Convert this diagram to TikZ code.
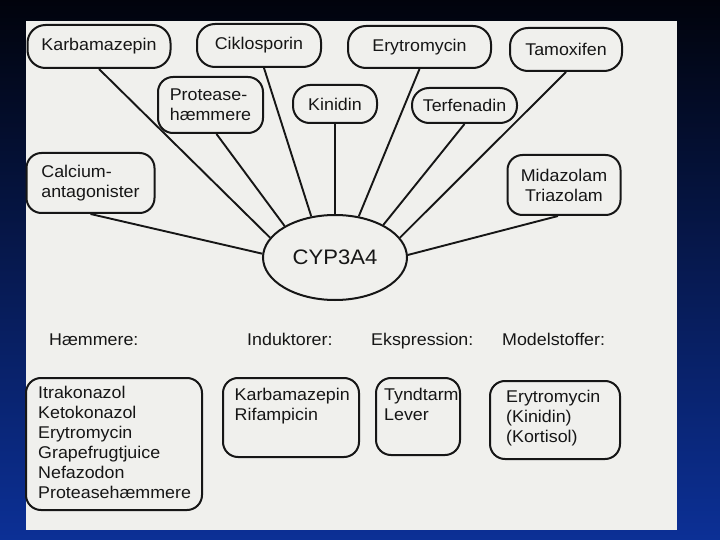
\documentclass[tikz,border=0pt]{standalone}
\usepackage{fontspec}
\setmainfont{Liberation Sans}[FakeStretch=1.05]
\usetikzlibrary{shapes.geometric}
\definecolor{paper}{RGB}{240,240,237}
\definecolor{ink}{RGB}{22,22,22}
\definecolor{bgtop}{RGB}{1,3,12}
\definecolor{bgbot}{RGB}{12,48,150}
\begin{document}
\begin{tikzpicture}[x=1pt,y=-1pt,
  box/.style={draw=ink, line width=2pt, rounded corners=#1, inner sep=0pt,
    align=center, text=ink, font=\fontsize{17}{20}\selectfont},
  box/.default=15pt,
  txt/.style={inner sep=0pt, align=left, text=ink, font=\fontsize{17}{20}\selectfont},
  conn/.style={draw=ink, line width=1.9pt}]
\useasboundingbox (0,0) rectangle (720,540);
\shade[top color=bgtop, bottom color=bgbot] (0,0) rectangle (720,540);
\fill[paper] (26,21) rectangle (677,530);

% top row
\node[box=18pt, minimum width=143pt, minimum height=43pt] (karb) at (99,46.5) {Karbamazepin};
\node[box=18pt, minimum width=124pt, minimum height=43pt] (cik) at (259,45.5) {Ciklosporin};
\node[box=18pt, minimum width=143pt, minimum height=42pt] (ery) at (419.5,47) {Erytromycin};
\node[box=18pt, minimum width=112pt, minimum height=43pt] (tam) at (566,49.5) {Tamoxifen};
% second row
\node[box=15pt, minimum width=105pt, minimum height=56pt, align=left] (prot) at (210.5,105) {Protease-\\hæmmere};
\node[box=17pt, minimum width=84pt, minimum height=38pt] (kin) at (335,104) {Kinidin};
\node[box=17pt, minimum width=105pt, minimum height=35pt] (ter) at (464.5,105.5) {Terfenadin};
% side boxes
\node[box=15pt, minimum width=128pt, minimum height=60pt, align=left] (cal) at (90.5,183) {Calcium-\\antagonister};
\node[box=15pt, minimum width=113pt, minimum height=60pt] (mid) at (564,185) {Midazolam\\Triazolam};
% centre
\node[draw=ink, line width=2pt, ellipse, minimum width=144pt, minimum height=85pt,
  inner sep=0pt, text=ink, font=\fontsize{21}{24}\selectfont] (cyp) at (335,257.5) {CYP3A4};

% connectors
\draw[conn] (karb.south) -- (cyp.163);
\draw[conn] ([xshift=6pt]prot.south) -- (cyp.148);
\draw[conn] ([xshift=5pt]cik.south) -- (cyp.120);
\draw[conn] (kin.south) -- (cyp.north);
\draw[conn] (ery.south) -- (cyp.60);
\draw[conn] (ter.south) -- (cyp.34);
\draw[conn] (tam.south) -- (cyp.17);
\draw[conn] (cal.south) -- (cyp.177);
\draw[conn] ([xshift=-6pt]mid.south) -- (cyp.2);

% headings
\node[txt, anchor=base west] (lham) at (49,345) {Hæmmere:};
\node[txt, anchor=base west] (lind) at (247,345) {Induktorer:};
\node[txt, anchor=base west] (leks) at (371,345) {Ekspression:};
\node[txt, anchor=base west] (lmod) at (502,345) {Modelstoffer:};

% bottom boxes
\node[box=15pt, minimum width=176pt, minimum height=132pt] (bham) at (114,444) {};
\node[txt, anchor=north west] (tham) at (38,386) {Itrakonazol\\Ketokonazol\\Erytromycin\\Grapefrugtjuice\\Nefazodon\\Proteasehæmmere};
\node[box=15pt, minimum width=136pt, minimum height=79pt] (bind) at (291,417.5) {};
\node[txt, anchor=north west] (tind) at (234.5,388) {Karbamazepin\\Rifampicin};
\node[box=15pt, minimum width=84pt, minimum height=77pt] (beks) at (418,416.5) {};
\node[txt, anchor=north west] (teks) at (384,388) {Tyndtarm\\Lever};
\node[box=15pt, minimum width=130pt, minimum height=78pt] (bmod) at (555,420) {};
\node[txt, anchor=north west] (tmod) at (506,390) {Erytromycin\\(Kinidin)\\(Kortisol)};
\end{tikzpicture}
\end{document}
